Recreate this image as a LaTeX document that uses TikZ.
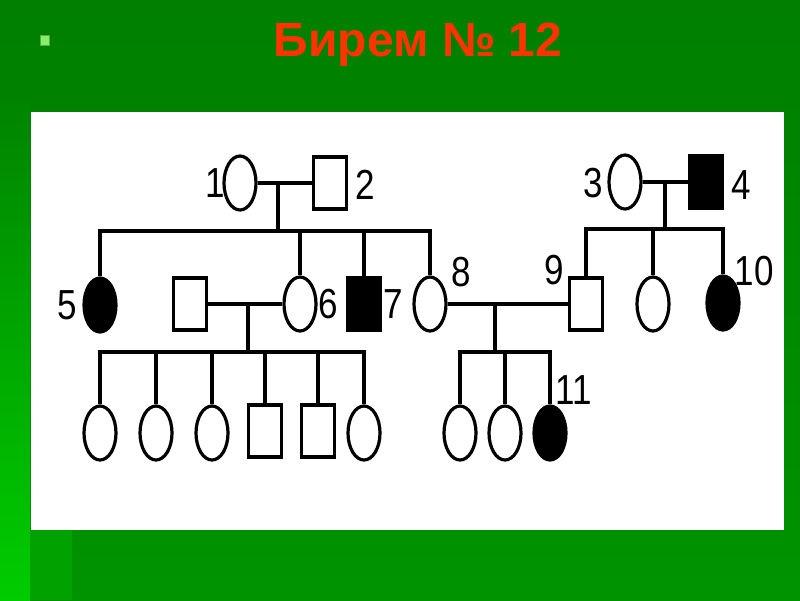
\documentclass[tikz,border=0pt]{standalone}
\usepackage{fontspec}
\setmainfont{Liberation Sans}
\usetikzlibrary{shapes.geometric}
\definecolor{bgtop}{HTML}{007F00}
\definecolor{bgbot}{HTML}{009300}
\definecolor{striptop}{HTML}{008400}
\definecolor{stripbot}{HTML}{00CC00}
\definecolor{bandgreen}{HTML}{00A200}
\definecolor{titlered}{HTML}{FF3300}
\definecolor{bulletgreen}{HTML}{88F068}
\newcommand\pedlab[1]{\scalebox{1}[1.2]{#1}}
\begin{document}
\begin{tikzpicture}[x=1pt,y=-1pt,line width=3.2pt,
  fem/.style={ellipse,draw,minimum width=32pt,minimum height=54pt,inner sep=0pt},
  mal/.style={rectangle,draw,minimum width=33pt,minimum height=52pt,inner sep=0pt},
  aff/.style={fill=black},
  lbl/.style={inner sep=0pt,font=\fontsize{35}{35}\selectfont}]
\useasboundingbox (0,0) rectangle (800,600);
% background
\shade[top color=bgtop,bottom color=bgbot,draw=none] (0,0) rectangle (800,600);
\shade[top color=striptop,bottom color=stripbot,draw=none] (0,100) rectangle (30,600);
\fill[bandgreen] (30,530) rectangle (72,600);
\fill[bulletgreen,draw=bulletgreen!70!black,line width=0.6pt] (40,35.5) rectangle (49,45);
\node[text=titlered,font=\bfseries\fontsize{48}{50}\selectfont,anchor=base,inner sep=0pt] (title) at (418,56) {Бирем № 12};
% panel
\fill[white] (31,112) rectangle (784,530);
% generation I
\node[fem] (n1) at (240,183) {};
\node[mal] (n2) at (330,183) {};
\node[fem] (n3) at (625,182) {};
\node[mal,aff] (n4) at (706,182) {};
% generation II
\node[fem,aff] (n5) at (100,305) {};
\node[mal] (s6) at (190,304) {};
\node[fem] (n6) at (300,304) {};
\node[mal,aff] (n7) at (364,304) {};
\node[fem] (n8) at (430,304) {};
\node[mal] (n9) at (586,304) {};
\node[fem] (c34) at (653,304) {};
\node[fem,aff] (n10) at (723,303) {};
% generation III
\node[fem] (g1) at (100,433) {};
\node[fem] (g2) at (156,433) {};
\node[fem] (g3) at (212,433) {};
\node[mal] (g4) at (265,431) {};
\node[mal] (g5) at (318,431) {};
\node[fem] (g6) at (364,433) {};
\node[fem] (h1) at (460,433) {};
\node[fem] (h2) at (505,433) {};
\node[fem,aff] (n11) at (550,433) {};
% labels
\node[lbl] (l1) at (215,183) {\pedlab{1}};
\node[lbl] (l2) at (365,185) {\pedlab{2}};
\node[lbl] (l3) at (593,183) {\pedlab{3}};
\node[lbl] (l4) at (741,185) {\pedlab{4}};
\node[lbl] (l5) at (67,305) {\pedlab{5}};
\node[lbl] (l6) at (328,304) {\pedlab{6}};
\node[lbl] (l7) at (393,304) {\pedlab{7}};
\node[lbl] (l8) at (461,272) {\pedlab{8}};
\node[lbl] (l9) at (554,270) {\pedlab{9}};
\node[lbl] (l10) at (754,271) {\pedlab{10}};
\node[lbl] (l11) at (574,390) {\pedlab{11}};
% marriage lines
\draw (n1) -- (n2);
\draw (n3) -- (n4);
\draw (s6) -- (n6);
\draw (n8) -- (n9);
% descent points
\coordinate (m12) at (278,183);
\coordinate (b12) at (278,231);
\coordinate (m34) at (665,182);
\coordinate (b34) at (665,229);
\coordinate (m6) at (248,304);
\coordinate (b6) at (248,352);
\coordinate (m89) at (495,304);
\coordinate (b89) at (495,352);
\draw (m12) -- (b12);
\draw (m34) -- (b34);
\draw (m6) -- (b6);
\draw (m89) -- (b89);
% sibships
\foreach \c in {n5,n6,n7,n8} \draw (\c.north) |- (b12);
\foreach \c in {n9,c34,n10} \draw (\c.north) |- (b34);
\foreach \c in {g1,g2,g3,g4,g5,g6} \draw (\c.north) |- (b6);
\foreach \c in {h1,h2,n11} \draw (\c.north) |- (b89);
\end{tikzpicture}
\end{document}
